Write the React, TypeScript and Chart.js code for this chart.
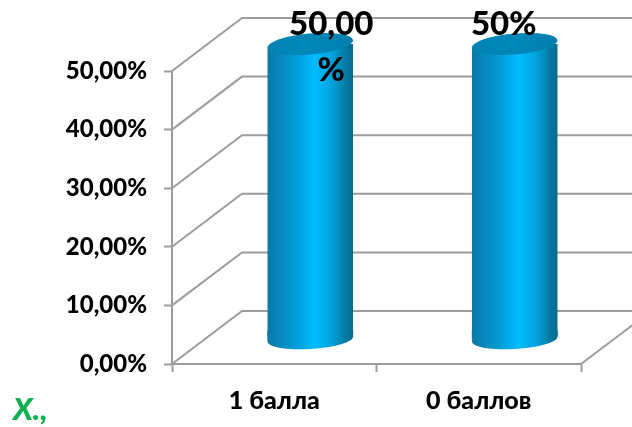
import React, { useEffect, useRef } from "react";
import { Chart, registerables } from "chart.js";

Chart.register(...registerables);

const categories = ["1 балла", "0 баллов"];
const seriesValues = [50, 50];
const yTickLabels = ["0,00%", "10,00%", "20,00%", "30,00%", "40,00%", "50,00%"];
const dataLabelLines = [["50,00", "%"], ["50%"]];
const cornerNote = "X.,";

const GRID = "#9c9c9c";
const WALL = { dx: 70, dy: -53 };
const BAR = { dx: 36, dy: -27 };
const BAR_RATIO = 0.42;
const FONT = "Lato, Carlito, sans-serif";
const HEAVY = 900;

function bodyGradient(c: CanvasRenderingContext2D, l: number, r: number) {
  const g = c.createLinearGradient(l, 0, r, 0);
  g.addColorStop(0, "#0a78a6");
  g.addColorStop(0.3, "#0299d2");
  g.addColorStop(0.55, "#00bcff");
  g.addColorStop(0.75, "#02a2dc");
  g.addColorStop(0.93, "#06759c");
  g.addColorStop(1, "#0a6a8e");
  return g;
}

function topGradient(c: CanvasRenderingContext2D, l: number, r: number) {
  const g = c.createLinearGradient(l, 0, r, 0);
  g.addColorStop(0, "#0084b4");
  g.addColorStop(0.5, "#0087b8");
  g.addColorStop(1, "#007fae");
  return g;
}

const cylinders = {
  id: "cylinders",
  beforeDatasetsDraw(chart: any) {
    const { ctx: c, scales, chartArea } = chart;
    const y = scales.y;
    c.save();
    c.strokeStyle = GRID;
    c.lineWidth = 2;
    y.ticks.forEach((t: any) => {
      const py = y.getPixelForValue(t.value);
      c.beginPath();
      c.moveTo(chartArea.left, py);
      c.lineTo(chartArea.left + WALL.dx, py + WALL.dy);
      c.lineTo(chart.width, py + WALL.dy);
      c.stroke();
    });
    const by = y.getPixelForValue(0);
    c.beginPath();
    c.moveTo(chartArea.right, by);
    c.lineTo(chartArea.right + WALL.dx, by + WALL.dy);
    c.stroke();
    c.restore();

    // bottom lobes behind the bodies
    const meta = chart.getDatasetMeta(0);
    meta.data.forEach((b: any) => {
      const l = b.x - b.width / 2 + BAR.dx;
      const r = b.x + b.width / 2 + BAR.dx;
      const baseY = b.base + BAR.dy;
      c.save();
      c.beginPath();
      c.ellipse((l + r) / 2, baseY + 2.5, (r - l) / 2, 10, (-3.5 * Math.PI) / 180, 0, Math.PI);
      c.lineTo(l, baseY - 6);
      c.lineTo(r, baseY - 6);
      c.closePath();
      c.fillStyle = bodyGradient(c, l, r);
      c.fill();
      c.restore();
    });

    // bodies are drawn by the library, shifted into the depth of the box
    c.save();
    c.beginPath();
    meta.data.forEach((b: any) => {
      const l = b.x - b.width / 2 + BAR.dx;
      const r = b.x + b.width / 2 + BAR.dx;
      const top = b.y + BAR.dy;
      c.moveTo(l, top + 4);
      c.lineTo(r, top - 4);
      c.lineTo(r, b.base + BAR.dy + 1);
      c.lineTo(l, b.base + BAR.dy + 1);
      c.closePath();
    });
    c.clip();
    c.translate(BAR.dx, BAR.dy);
  },
  afterDatasetsDraw(chart: any) {
    const { ctx: c } = chart;
    c.restore();
    const meta = chart.getDatasetMeta(0);
    meta.data.forEach((b: any, i: number) => {
      const l = b.x - b.width / 2 + BAR.dx;
      const r = b.x + b.width / 2 + BAR.dx;
      c.save();
      c.beginPath();
      c.ellipse((l + r) / 2, b.y + BAR.dy, (r - l) / 2, 10.5, (-5 * Math.PI) / 180, 0, Math.PI * 2);
      c.fillStyle = topGradient(c, l, r);
      c.fill();
      c.restore();

      // value labels
      c.save();
      c.fillStyle = "#000";
      c.font = `${HEAVY} 33px ${FONT}`;
      c.textAlign = "center";
      c.textBaseline = "middle";
      const labelX = i === 0 ? (l + r) / 2 + 21 : (l + r) / 2 - 11;
      dataLabelLines[i].forEach((line, k) => {
        c.fillText(line, labelX, b.y - 47 + k * 46);
      });
      c.restore();
    });
    c.save();
    c.fillStyle = "#10b050";
    c.font = `italic ${HEAVY} 31px ${FONT}`;
    c.textAlign = "left";
    c.textBaseline = "alphabetic";
    c.fillText(cornerNote, 13, 420);
    c.restore();
  },
};

export default function App() {
  const ref = useRef<HTMLCanvasElement>(null);
  useEffect(() => {
    const chart = new Chart(ref.current!, {
      type: "bar",
      data: {
        labels: categories,
        datasets: [
          {
            data: seriesValues,
            categoryPercentage: 1,
            barPercentage: BAR_RATIO,
            borderWidth: 0,
            backgroundColor: (ctx: any) => {
              const ch = ctx.chart;
              const xs = ch.scales.x;
              if (!xs || !ch.chartArea) return "#00a8e0";
              const w = (xs.width / categories.length) * BAR_RATIO;
              const cx = xs.getPixelForValue(ctx.dataIndex);
              return bodyGradient(ch.ctx, cx - w / 2, cx + w / 2);
            },
          },
        ],
      },
      options: {
        responsive: false,
        animation: false,
        layout: { padding: { left: 0, right: 51, top: 71, bottom: 0 } },
        plugins: { legend: { display: false }, tooltip: { enabled: false }, title: { display: false } },
        scales: {
          x: {
            afterFit: (s: any) => { s.height = 63; },
            grid: { drawOnChartArea: false, drawTicks: true, tickLength: 8, tickColor: GRID, tickWidth: 2, offset: true },
            border: { color: GRID, width: 2 },
            ticks: { color: "#000", font: { family: FONT, size: 25, weight: HEAVY }, padding: 14, maxRotation: 0 },
          },
          y: {
            min: 0,
            max: 50,
            afterFit: (s: any) => { s.width = 172; },
            grid: { drawOnChartArea: false, drawTicks: true, tickLength: 8, tickColor: GRID, tickWidth: 2 },
            border: { color: GRID, width: 2 },
            ticks: {
              stepSize: 10,
              color: "#000",
              font: { family: FONT, size: 24, weight: HEAVY },
              padding: 17,
              callback: (_v: any, i: number) => yTickLabels[i],
            },
          },
        },
      },
      plugins: [cylinders],
    } as any);
    return () => chart.destroy();
  }, []);
  return (
    <div style={{ position: "absolute", left: 0, top: 0, width: 632, height: 427, background: "#fff" }}>
      <canvas ref={ref} width={632} height={427} style={{ display: "block" }} />
    </div>
  );
}
